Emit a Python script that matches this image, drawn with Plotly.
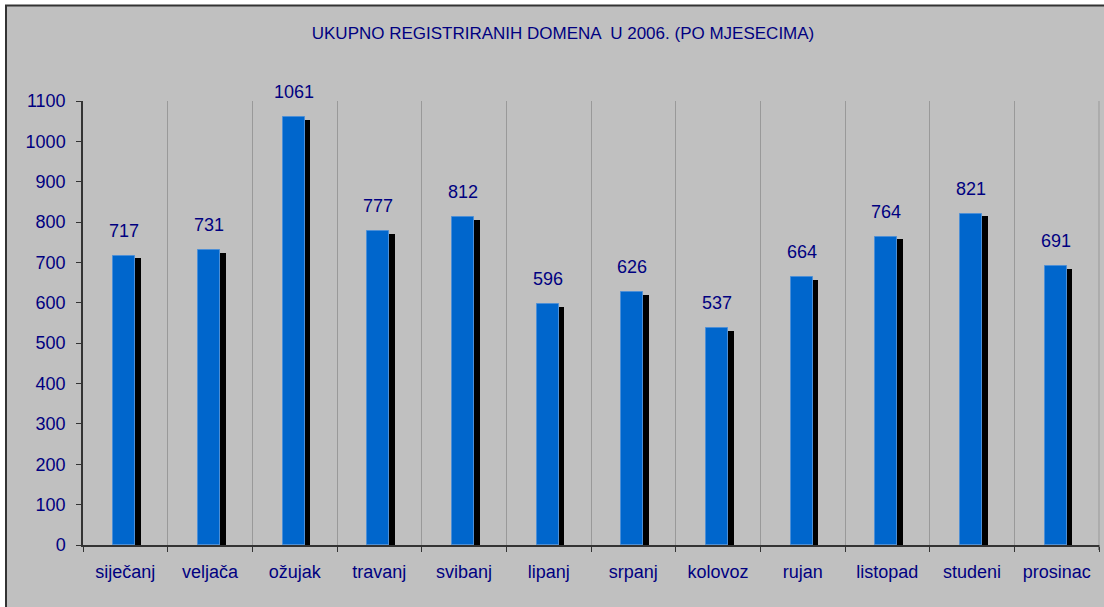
import plotly.graph_objects as go

months = ["siječanj", "veljača", "ožujak", "travanj", "svibanj", "lipanj",
          "srpanj", "kolovoz", "rujan", "listopad", "studeni", "prosinac"]
domains = [717, 731, 1061, 777, 812, 596, 626, 537, 664, 764, 821, 691]
y_ticks = list(range(0, 1101, 100))

title_text = "UKUPNO REGISTRIRANIH DOMENA  U 2006. (PO MJESECIMA)"
navy = "#000080"
font_family = "Liberation Sans, Arial, sans-serif"

SHADOW_DROP = 7  # visual drop of the shadow in data units

fig = go.Figure()

# shadow bars (behind)
fig.add_trace(go.Bar(
    x=months, y=[v - SHADOW_DROP for v in domains],
    width=0.068, offset=0.118,
    marker=dict(color="#000000", line=dict(width=0)),
    hoverinfo="skip", showlegend=False,
))
# main bars
fig.add_trace(go.Bar(
    x=months, y=domains,
    width=0.26, offset=-0.142,
    marker=dict(color="#0066CC", line=dict(color="#4d8fd6", width=1)),
    showlegend=False,
))

for m, v in zip(months, domains):
    fig.add_annotation(
        x=m, y=v, text=str(v), showarrow=False,
        xshift=-1, yshift=25, yanchor="middle",
        font=dict(family=font_family, size=18, color=navy),
    )

# chart frame
fig.add_shape(
    type="rect", xref="paper", yref="paper",
    x0=(6 - 83) / 1016, x1=1.02, y0=-0.2, y1=1 + (101 - 5.5) / 444,
    line=dict(color="#333333", width=2), fillcolor="#C0C0C0", layer="below",
)
# right-edge category boundary gridline and tick
fig.add_shape(type="line", xref="paper", yref="paper", x0=1, x1=1, y0=0, y1=1,
              line=dict(color="#999999", width=1), layer="below")
fig.add_shape(type="line", xref="paper", yref="paper", x0=1, x1=1, y0=-5 / 444, y1=0,
              line=dict(color="#333333", width=1))

fig.update_layout(
    width=1104, height=607,
    margin=dict(l=83, r=5, t=101, b=62),
    paper_bgcolor="white", plot_bgcolor="rgba(0,0,0,0)",
    barmode="overlay", bargap=0,
    title=dict(text=title_text, x=563 / 1104, xanchor="center", xref="container",
               y=1 - 33 / 607, yanchor="middle", yref="container",
               font=dict(family=font_family, size=17, color=navy)),
    font=dict(family=font_family, size=18, color=navy),
    xaxis=dict(
        type="category", tickson="boundaries", range=[-0.5, 11.5],
        showgrid=True, gridcolor="#999999", gridwidth=1,
        ticks="outside", ticklen=5, tickcolor="#333333",
        showline=True, linecolor="#333333", linewidth=1.5,
        tickfont=dict(family=font_family, size=18, color=navy),
        ticklabelstandoff=10,
        zeroline=False, automargin=False,
    ),
    yaxis=dict(
        range=[0, 1100], tickvals=y_ticks,
        showgrid=False, zeroline=False,
        ticks="outside", ticklen=5, tickcolor="#333333",
        showline=True, linecolor="#333333", linewidth=1.5,
        tickfont=dict(family=font_family, size=18, color=navy),
        ticklabelstandoff=7, automargin=False,
    ),
)

fig.write_html("out.html",
               config={"displayModeBar": False},
               post_script="document.body.style.margin='0px';document.body.style.overflow='hidden';")
